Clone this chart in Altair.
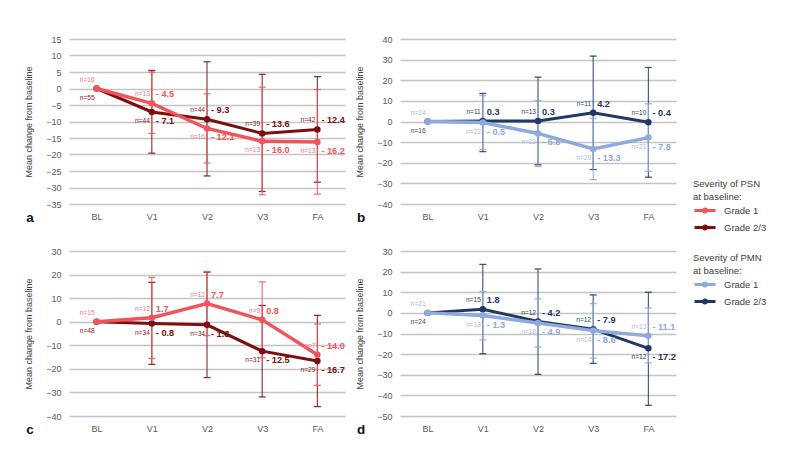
import altair as alt
import pandas as pd

visits = ["BL", "V1", "V2", "V3", "FA"]
grades = ["Grade 1", "Grade 2/3"]

# Panel a (PSN)
a_g1_mean = [0, -4.5, -12.1, -16.0, -16.2]
a_g1_hi = [None, 5.0, -1.6, 0.4, -0.3]
a_g1_lo = [None, -13.6, -22.6, -32.2, -32.0]
a_g1_n = [16, 13, 16, 13, 13]
a_g2_mean = [0, -7.1, -9.3, -13.6, -12.4]
a_g2_hi = [None, 5.5, 8.1, 4.3, 3.6]
a_g2_lo = [None, -19.6, -26.5, -31.2, -28.4]
a_g2_n = [55, 44, 44, 39, 42]
a_ticks = [15, 10, 5, 0, -5, -10, -15, -20, -25, -30, -35]

# Panel b (PMN)
b_g1_mean = [0, -0.5, -5.8, -13.3, -7.8]
b_g1_hi = [None, 12.5, 10.2, 1.6, 8.6]
b_g1_lo = [None, -13.5, -21.8, -28.2, -24.2]
b_g1_n = [24, 22, 22, 20, 21]
b_g2_mean = [0, 0.3, 0.3, 4.2, -0.4]
b_g2_hi = [None, 13.6, 21.5, 31.7, 26.2]
b_g2_lo = [None, -14.6, -21.0, -23.3, -27.0]
b_g2_n = [16, 11, 13, 11, 10]
b_ticks = [40, 30, 20, 10, 0, -10, -20, -30, -40]

# Panel c (PSN)
c_g1_mean = [0, 1.7, 7.7, 0.8, -14.0]
c_g1_hi = [None, 18.8, 21.3, 16.9, -1.0]
c_g1_lo = [None, -15.6, -5.9, -15.3, -27.0]
c_g1_n = [15, 12, 12, 9, 7]
c_g2_mean = [0, -0.8, -1.3, -12.5, -16.7]
c_g2_hi = [None, 16.7, 21.0, 6.9, 2.7]
c_g2_lo = [None, -18.1, -23.7, -31.9, -36.0]
c_g2_n = [48, 34, 34, 31, 29]
c_ticks = [30, 20, 10, 0, -10, -20, -30, -40]

# Panel d (PMN)
d_g1_mean = [0, -1.3, -4.9, -8.6, -11.1]
d_g1_hi = [None, 10.3, 6.8, 4.5, 2.3]
d_g1_lo = [None, -13.1, -16.6, -21.9, -24.2]
d_g1_n = [21, 18, 18, 14, 13]
d_g2_mean = [0, 1.8, -4.2, -7.9, -17.2]
d_g2_hi = [None, 23.5, 21.3, 8.7, 10.0]
d_g2_lo = [None, -19.8, -29.8, -24.5, -44.8]
d_g2_n = [24, 15, 12, 12, 12]
d_ticks = [30, 20, 10, 0, -10, -20, -30, -40, -50]

FONT = "Liberation Sans"
W, H = 276, 165

RED = {"line": ["#F2545B", "#7B0E0E"], "nlab": ["#F07A80", "#8B2020"]}
BLUE = {"line": ["#8EA9DB", "#1F3864"], "nlab": ["#A3B8E2", "#2B3F66"]}


def fmt(v):
    return f"- {abs(v):.1f}" if v < 0 else f"{v:.1f}"


def build_df(g1, g2):
    rows = []
    for gi, (g, other) in enumerate([(g1, g2), (g2, g1)]):
        mean, hi, lo, n = g
        omean = other[0]
        for i, v in enumerate(visits):
            if gi == 0:
                side = "up" if mean[i] >= omean[i] else "down"
            else:
                side = "up" if mean[i] > omean[i] else "down"
            rows.append({
                "visit": v, "grade": grades[gi], "mean": mean[i],
                "hi": hi[i], "lo": lo[i], "nlabel": f"n={n[i]}",
                "vlabel": fmt(mean[i]) if i > 0 else "", "side": side,
            })
    return pd.DataFrame(rows)


def panel(letter, g1, g2, ticks, pal):
    df = build_df(g1, g2)
    base = alt.Chart(df)
    yscale = alt.Scale(domain=[min(ticks), max(ticks)], nice=False, zero=False)
    yaxis = alt.Axis(values=ticks, title="Mean change from baseline", grid=True,
                     gridColor="#C4C4C4", gridWidth=1.4, domain=False, ticks=False,
                     labelFontSize=9, labelColor="#595959", labelPadding=8,
                     titleFontSize=9, titleFontWeight="normal", titleColor="#404040",
                     titlePadding=12, labelFont=FONT, titleFont=FONT)
    xenc = alt.X("visit:N", sort=visits,
                 scale=alt.Scale(type="point", domain=visits, padding=0.5),
                 axis=alt.Axis(title=None, labelAngle=0, domain=False, ticks=False, grid=False,
                               labelFontSize=9, labelColor="#595959", labelPadding=8, labelFont=FONT))

    def Y(f):
        return alt.Y(f, scale=yscale, axis=yaxis, title="Mean change from baseline")

    layers = []
    # error bars: grade 2/3 first, then grade 1
    for gi in [1, 0]:
        col = pal["line"][gi]
        sub = base.transform_filter(alt.datum.grade == grades[gi]).transform_filter("isValid(datum.lo)")
        layers.append(sub.mark_rule(color=col, strokeWidth=1.2, opacity=0.8).encode(
            x=xenc, y=Y("lo:Q"), y2="hi:Q"))
        layers.append(sub.transform_fold(["lo", "hi"], as_=["which", "v"]).mark_tick(
            color=col, size=7, thickness=1.3, opacity=0.85).encode(x=xenc, y=Y("v:Q")))
    for gi in [1, 0]:
        col = pal["line"][gi]
        sub = base.transform_filter(alt.datum.grade == grades[gi])
        layers.append(sub.mark_line(color=col, strokeWidth=3.4 if gi == 0 else 3.0).encode(
            x=xenc, y=Y("mean:Q")))
        layers.append(sub.mark_circle(color=col, size=42, opacity=1).encode(
            x=xenc, y=Y("mean:Q")))
    for gi in [0, 1]:
        for side, dy in [("up", -9), ("down", 9)]:
            sub = base.transform_filter(alt.datum.grade == grades[gi]).transform_filter(
                alt.datum.side == side)
            layers.append(sub.mark_text(align="right", baseline="middle", dx=-2, dy=dy,
                                        fontSize=6.6, font=FONT, color=pal["nlab"][gi]).encode(
                x=xenc, y=Y("mean:Q"), text="nlabel:N"))
            layers.append(sub.mark_text(align="left", baseline="middle", dx=4, dy=dy,
                                        fontSize=9.2, fontWeight="bold", font=FONT,
                                        color=pal["line"][gi]).encode(
                x=xenc, y=Y("mean:Q"), text="vlabel:N"))
    lt = alt.Chart(pd.DataFrame({"t": [letter]})).mark_text(
        align="center", baseline="middle", fontSize=13.5, fontWeight="bold", font=FONT,
        color="#111111").encode(text="t:N", x=alt.value(-39), y=alt.value(H + 14))
    layers.append(lt)
    return alt.layer(*layers).properties(width=W, height=H)


pa = panel("a", (a_g1_mean, a_g1_hi, a_g1_lo, a_g1_n), (a_g2_mean, a_g2_hi, a_g2_lo, a_g2_n), a_ticks, RED)
pb = panel("b", (b_g1_mean, b_g1_hi, b_g1_lo, b_g1_n), (b_g2_mean, b_g2_hi, b_g2_lo, b_g2_n), b_ticks, BLUE)
pc = panel("c", (c_g1_mean, c_g1_hi, c_g1_lo, c_g1_n), (c_g2_mean, c_g2_hi, c_g2_lo, c_g2_n), c_ticks, RED)
pd_ = panel("d", (d_g1_mean, d_g1_hi, d_g1_lo, d_g1_n), (d_g2_mean, d_g2_hi, d_g2_lo, d_g2_n), d_ticks, BLUE)

SYMBOL = "M-1,0L1.8,0M0.2,0A0.2,0.2,0,1,1,0.6,0A0.2,0.2,0,1,1,0.2,0"


def legend_layer(field, title, colors, ly):
    return alt.Chart(alt.Data(values=[{field: g} for g in grades])).mark_line().encode(
        x=alt.value(0), y=alt.value(0),
        color=alt.Color(f"{field}:N", scale=alt.Scale(domain=grades, range=colors),
                        legend=alt.Legend(title=title, orient="none", legendX=3, legendY=ly,
                                          symbolType=SYMBOL, symbolSize=225, symbolStrokeWidth=3,
                                          symbolFillColor="transparent",
                                          labelOffset=13, labelFontSize=9.5, labelColor="#404040",
                                          labelFont=FONT, titleFont=FONT, titleFontSize=9.5,
                                          titleFontWeight="normal", titleColor="#404040",
                                          titleLineHeight=13, titlePadding=0, rowPadding=0,
                                          padding=0)))


leg = alt.layer(
    legend_layer("psn", ["Severity of PSN", "at baseline:"], RED["line"], 140),
    legend_layer("pmn", ["Severity of PMN", "at baseline:"], BLUE["line"], 214),
).resolve_scale(color="independent").properties(width=1, height=1)

chart = alt.hconcat(
    alt.vconcat(pa, pc, spacing=22),
    alt.vconcat(pb, pd_, spacing=22),
    leg,
    spacing=10,
).resolve_scale(color="independent").properties(
    padding={"left": 16, "top": 27, "right": 5, "bottom": 5}
).configure(font=FONT, background="white").configure_view(stroke=None)

chart.save("out.html", embed_options={"renderer": "svg", "actions": False})
